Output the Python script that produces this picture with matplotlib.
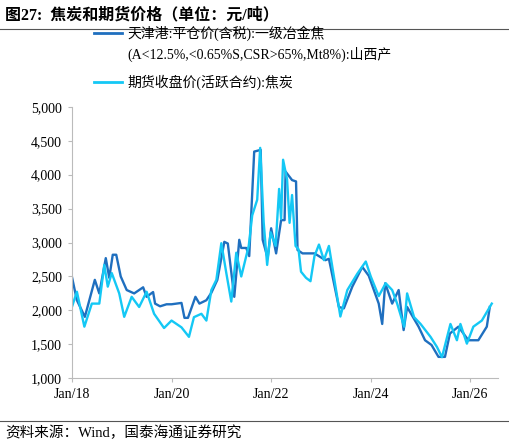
import matplotlib
matplotlib.use("Agg")
from matplotlib import pyplot as plt
from matplotlib.lines import Line2D

plt.rcParams['font.family'] = ['Liberation Serif', 'Noto Sans CJK SC', 'DejaVu Sans']

# spot price (dark blue), year as decimal
spot_t = [2018.0, 2018.1, 2018.26, 2018.46, 2018.55, 2018.68, 2018.75, 2018.82, 2018.89, 2018.98,
          2019.1, 2019.25, 2019.43, 2019.5, 2019.63, 2019.67, 2019.77, 2019.9, 2020.0, 2020.2,
          2020.26, 2020.33, 2020.48, 2020.56, 2020.7, 2020.8, 2020.92, 2021.06, 2021.13, 2021.26,
          2021.36, 2021.4, 2021.5, 2021.56, 2021.66, 2021.79, 2021.83, 2021.93, 2022.0, 2022.1,
          2022.2, 2022.27, 2022.29, 2022.42, 2022.5, 2022.53, 2022.63, 2022.87, 2023.09, 2023.16,
          2023.36, 2023.46, 2023.63, 2023.83, 2023.96, 2024.16, 2024.23, 2024.29, 2024.43, 2024.56,
          2024.66, 2024.73, 2024.96, 2025.09, 2025.22, 2025.36, 2025.49, 2025.59, 2025.76, 2025.96,
          2026.16, 2026.33, 2026.39]
spot = [2495, 2150, 1905, 2450, 2250, 2770, 2480, 2820, 2820, 2500,
        2300, 2250, 2340, 2200, 2270, 2100, 2060, 2090, 2090, 2110,
        1890, 1890, 2200, 2100, 2150, 2260, 2450, 3010, 2985, 2200,
        3040, 2920, 2920, 2800, 4340, 4365, 3040, 2770, 3210, 2840,
        3330, 3330, 4045, 3920, 3900, 2890, 2840, 2840, 2740, 2760,
        2050, 2030, 2350, 2640, 2510, 2100, 1800, 2400, 2100, 2300,
        1710, 2050, 1760, 1560, 1490, 1315, 1315, 1660, 1760, 1560,
        1560, 1760, 2050]

# futures close (cyan)
fut_t = [2018.0, 2018.1, 2018.25, 2018.4, 2018.55, 2018.65, 2018.72, 2018.8, 2018.95, 2019.05,
         2019.2, 2019.35, 2019.5, 2019.65, 2019.85, 2020.0, 2020.2, 2020.35, 2020.45, 2020.6,
         2020.7, 2020.8, 2020.9, 2021.0, 2021.1, 2021.2, 2021.3, 2021.4, 2021.55, 2021.62,
         2021.72, 2021.78, 2021.85, 2021.92, 2021.99, 2022.09, 2022.16, 2022.2, 2022.24, 2022.32,
         2022.37, 2022.42, 2022.49, 2022.55, 2022.6, 2022.7, 2022.79, 2022.87, 2022.96, 2023.06,
         2023.16, 2023.26, 2023.39, 2023.53, 2023.73, 2023.9, 2024.0, 2024.16, 2024.3, 2024.43,
         2024.53, 2024.67, 2024.73, 2024.87, 2025.0, 2025.2, 2025.33, 2025.43, 2025.6, 2025.73,
         2025.8, 2025.93, 2026.06, 2026.23, 2026.43]
fut = [2050, 2275, 1760, 2100, 2100, 2670, 2350, 2550, 2250, 1905,
       2200, 2050, 2275, 1950, 1740, 1850, 1750, 1610, 1900, 1950,
       1850, 2300, 2450, 2990, 2550, 2130, 2850, 2500, 2950, 3400,
       3630, 4395, 3300, 2670, 3150, 2950, 3790, 3350, 4220, 3930,
       3290, 3700, 2950, 2900, 2570, 2480, 2430, 2800, 2970, 2740,
       2950, 2500, 1910, 2300, 2540, 2720, 2500, 2210, 2400, 2300,
       2100, 1760, 2250, 1900, 1800, 1610, 1460, 1310, 1800, 1560,
       1800, 1510, 1760, 1850, 2100]

tick_years = [2018, 2020, 2022, 2024, 2026]
tick_labels = ['Jan/18', 'Jan/20', 'Jan/22', 'Jan/24', 'Jan/26']
dark = '#1F6FBF'
cyan = '#14C8F5'

fig = plt.figure(figsize=(5.1, 4.45), dpi=100)
ax = fig.add_axes([0.141, 0.15, 0.835, 0.61])
ax.plot(spot_t, spot, color=dark, lw=1.7)
ax.plot(fut_t, fut, color=cyan, lw=1.7)
ax.set_xlim(2018, 2026.55)
ax.set_ylim(1000, 5000)
ax.set_yticks(range(1000, 5001, 500))
ax.set_yticklabels([f'{v:,}' for v in range(1000, 5001, 500)])
ax.set_xticks(tick_years)
ax.set_xticklabels(tick_labels)
ax.tick_params(labelsize=10, length=3, color='#BBBBBB', pad=4)
for s in ['top', 'right']:
    ax.spines[s].set_visible(False)
for s in ['left', 'bottom']:
    ax.spines[s].set_color('#BBBBBB')

# legend drawn above the axes
fig.add_artist(Line2D([0.185, 0.24], [0.925, 0.925], color=dark, lw=2))
fig.text(0.25, 0.925, '天津港:平仓价(含税):一级冶金焦', fontsize=10, va='center')
fig.text(0.25, 0.878, '(A<12.5%,<0.65%S,CSR>65%,Mt8%):山西产', fontsize=10, va='center')
fig.add_artist(Line2D([0.185, 0.24], [0.815, 0.815], color=cyan, lw=2))
fig.text(0.25, 0.815, '期货收盘价(活跃合约):焦炭', fontsize=10, va='center')

# title and source
fig.text(0.01, 0.965, '图27:  焦炭和期货价格（单位：元/吨）', fontsize=11.5, fontweight='bold', va='center')
fig.add_artist(Line2D([0.0, 1.0], [0.935, 0.935], color='#555555', lw=0.8))
fig.add_artist(Line2D([0.0, 1.0], [0.055, 0.055], color='#555555', lw=0.8))
fig.text(0.01, 0.028, '资料来源：Wind，国泰海通证券研究', fontsize=10.5, va='center')

fig.savefig('out.png', dpi=100)
